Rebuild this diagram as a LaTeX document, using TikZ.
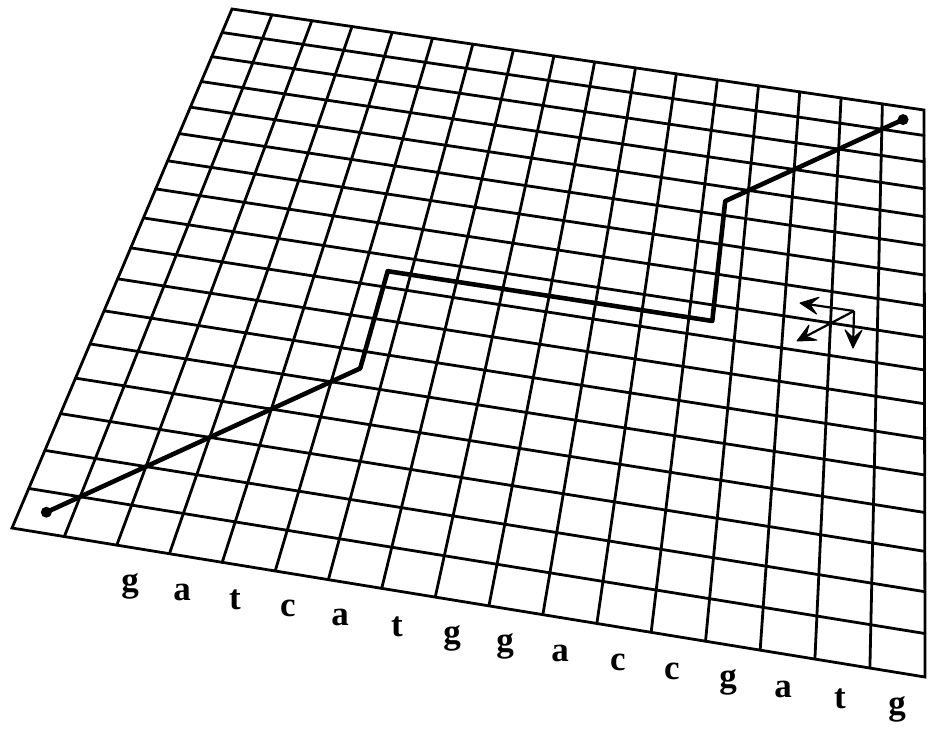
\documentclass[tikz,border=0pt]{standalone}
\usepackage{fontspec}
\setmainfont{Liberation Serif}
\usetikzlibrary{calc}
\begin{document}
\begin{tikzpicture}[x=1pt,y=1pt,
  declare function={
    hw(\gu,\gv)=1-0.021052*\gu/17-0.24204*\gv/17;
    hx(\gu,\gv)=(672.548*\gu/17-222.904*\gv/17+232)/hw(\gu,\gv);
    hy(\gu,\gv)=-(98.684*\gu/17+391.203*\gv/17+9)/hw(\gu,\gv);},
  gridline/.style={line width=2.8pt, line cap=round},
  walk/.style={line width=4.6pt, line join=round, line cap=round},
  enddot/.style={fill=black},
  shaft/.style={line width=2.2pt},
  headfill/.style={fill=black, draw=black, line width=1pt, line join=round},
  letter/.style={font=\fontsize{35}{35}\selectfont\bfseries, inner sep=0pt, anchor=base}]
\useasboundingbox (0,0) rectangle (928,-728);
% grid
\foreach \i in {1,...,16}{
  \draw[gridline] ({hx(\i,0)},{hy(\i,0)}) -- ({hx(\i,17)},{hy(\i,17)});
  \draw[gridline] ({hx(0,\i)},{hy(0,\i)}) -- ({hx(17,\i)},{hy(17,\i)});
}
\draw[gridline, line join=miter] ({hx(0,0)},{hy(0,0)}) -- ({hx(17,0)},{hy(17,0)})
  -- ({hx(17,17)},{hy(17,17)}) -- ({hx(0,17)},{hy(0,17)}) -- cycle;
% alignment path
\coordinate (p0) at ({hx(0.5,16.5)},{hy(0.5,16.5)});
\coordinate (p1) at ({hx(5.5,11.5)},{hy(5.5,11.5)});
\coordinate (p2) at ({hx(5.5,8.5)},{hy(5.5,8.5)});
\coordinate (p3) at ({hx(12.5,8.5)},{hy(12.5,8.5)});
\coordinate (p4) at ({hx(12.5,4.5)},{hy(12.5,4.5)});
\coordinate (p5) at ({hx(16.5,0.5)},{hy(16.5,0.5)});
\draw[walk] (p0) -- (p1) -- (p2) -- (p3) -- (p4) -- (p5);
\fill[enddot] (p0) circle[radius=5.5pt];
\fill[enddot] (p5) circle[radius=5.5pt];
% move arrows
\coordinate (o) at (854,-311);
\coordinate (ml) at (800,-303);
\coordinate (md) at (853,-348);
\coordinate (mg) at (797,-341);
\foreach \t in {ml,md,mg}{
  \coordinate (\t-b) at ($(\t)!18pt!(o)$);
  \coordinate (\t-n) at ($(\t)!10pt!(o)$);
  \coordinate (\t-l) at ($(\t-b)!8.5pt!90:(\t)$);
  \coordinate (\t-r) at ($(\t-b)!8.5pt!-90:(\t)$);
  \draw[shaft] (o) -- (\t-n);
  \filldraw[headfill] (\t) -- (\t-l) -- (\t-n) -- (\t-r) -- cycle;
}
% sequence letters
\node[letter] (s1) at (130,-591) {g};
\node[letter] (s2) at (182,-600) {a};
\node[letter] (s3) at (235,-609) {t};
\node[letter] (s4) at (288,-616) {c};
\node[letter] (s5) at (340,-625) {a};
\node[letter] (s6) at (397,-636) {t};
\node[letter] (s7) at (452,-643) {g};
\node[letter] (s8) at (505,-651) {g};
\node[letter] (s9) at (560,-661) {a};
\node[letter] (s10) at (618,-670) {c};
\node[letter] (s11) at (672,-679) {c};
\node[letter] (s12) at (728,-687) {g};
\node[letter] (s13) at (783,-697) {a};
\node[letter] (s14) at (840,-708) {t};
\node[letter] (s15) at (897,-714) {g};
\end{tikzpicture}
\end{document}
